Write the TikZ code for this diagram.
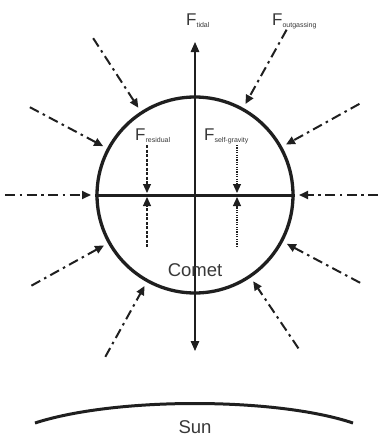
\documentclass[tikz,border=0pt]{standalone}
\usepackage{fontspec}
\setmainfont{Liberation Sans}
\usetikzlibrary{arrows.meta,calc}
\newcommand\forcelab[1]{{\fontsize{17}{17}\selectfont F}\raisebox{-2.5pt}{\fontsize{7}{7}\selectfont #1}}
\begin{document}
\begin{tikzpicture}[x=1pt,y=-1pt,
  ink/.style={draw=black!88},
  txt/.style={text=black!78, inner sep=0pt},
  cometcircle/.style={circle, ink, line width=3.3pt, minimum size=196pt, inner sep=0pt},
  ddarrow/.style={ink, line width=2pt, dash pattern=on 10pt off 4.5pt on 2.5pt off 4.5pt,
     -{Triangle[length=9pt,width=8pt]}},
  axisarrow/.style={ink, line width=1.3pt, {Triangle[length=10pt,width=8.5pt]}-{Triangle[length=10pt,width=8.5pt]}},
  resarrow/.style={ink, line width=1.1pt, dash pattern=on 3pt off 1.5pt, -{Triangle[length=9pt,width=8pt]}},
  gravarrow/.style={ink, line width=1.1pt, dash pattern=on 1.2pt off 1.2pt, -{Triangle[length=9pt,width=8pt]}},
]
\useasboundingbox (0,0) rectangle (380,437);
\coordinate (c) at (195,195);
\node[cometcircle] (comet) at (c) {};
\draw[ink, line width=3pt] (comet.west) -- (comet.east);

% tidal axis
\coordinate (ttop) at (195,42);
\coordinate (tbot) at (195,351);
\draw[axisarrow] (ttop) -- (tbot);

% outgassing arrows
\foreach \a/\i/\d in {123/1/187,61/2/189,152/3/187,29/4/188,180/5/190,0/6/183,209/7/187,-28/8/187,241/9/185,-56/10/185} {
  \coordinate (s\i) at ([shift={(-\a:\d)}]c);
  \coordinate (e\i) at ([shift={(-\a:104)}]c);
  \draw[ddarrow] (s\i) -- (e\i);
}

% residual and self-gravity arrows
\coordinate (r1) at (147,145);
\coordinate (r1e) at (147,193);
\coordinate (r2) at (147,247);
\coordinate (r2e) at (147,197);
\draw[resarrow] (r1) -- (r1e);
\draw[resarrow] (r2) -- (r2e);
\coordinate (g1) at (237,145);
\coordinate (g1e) at (237,193);
\coordinate (g2) at (237,247);
\coordinate (g2e) at (237,197);
\draw[gravarrow] (g1) -- (g1e);
\draw[gravarrow] (g2) -- (g2e);

% labels
\node[txt, anchor=base west] (ltidal) at (186,25) {\forcelab{tidal}};
\node[txt, anchor=base west] (lout) at (272,25) {\forcelab{outgassing}};
\node[txt, anchor=base west] (lres) at (135,140) {\forcelab{residual}};
\node[txt, anchor=base west] (lgrav) at (204,140) {\forcelab{self-gravity}};
\node[txt, font=\fontsize{18.5}{18.5}\selectfont] (lcomet) at (195,270) {Comet};

% sun
\coordinate (sunl) at (35,423);
\coordinate (sunr) at (353,423);
\draw[ink, line width=3pt] (sunl) .. controls (115,397) and (275,397) .. (sunr);
\node[txt, font=\fontsize{18.5}{18.5}\selectfont] (lsun) at (195,427) {Sun};
\end{tikzpicture}
\end{document}
